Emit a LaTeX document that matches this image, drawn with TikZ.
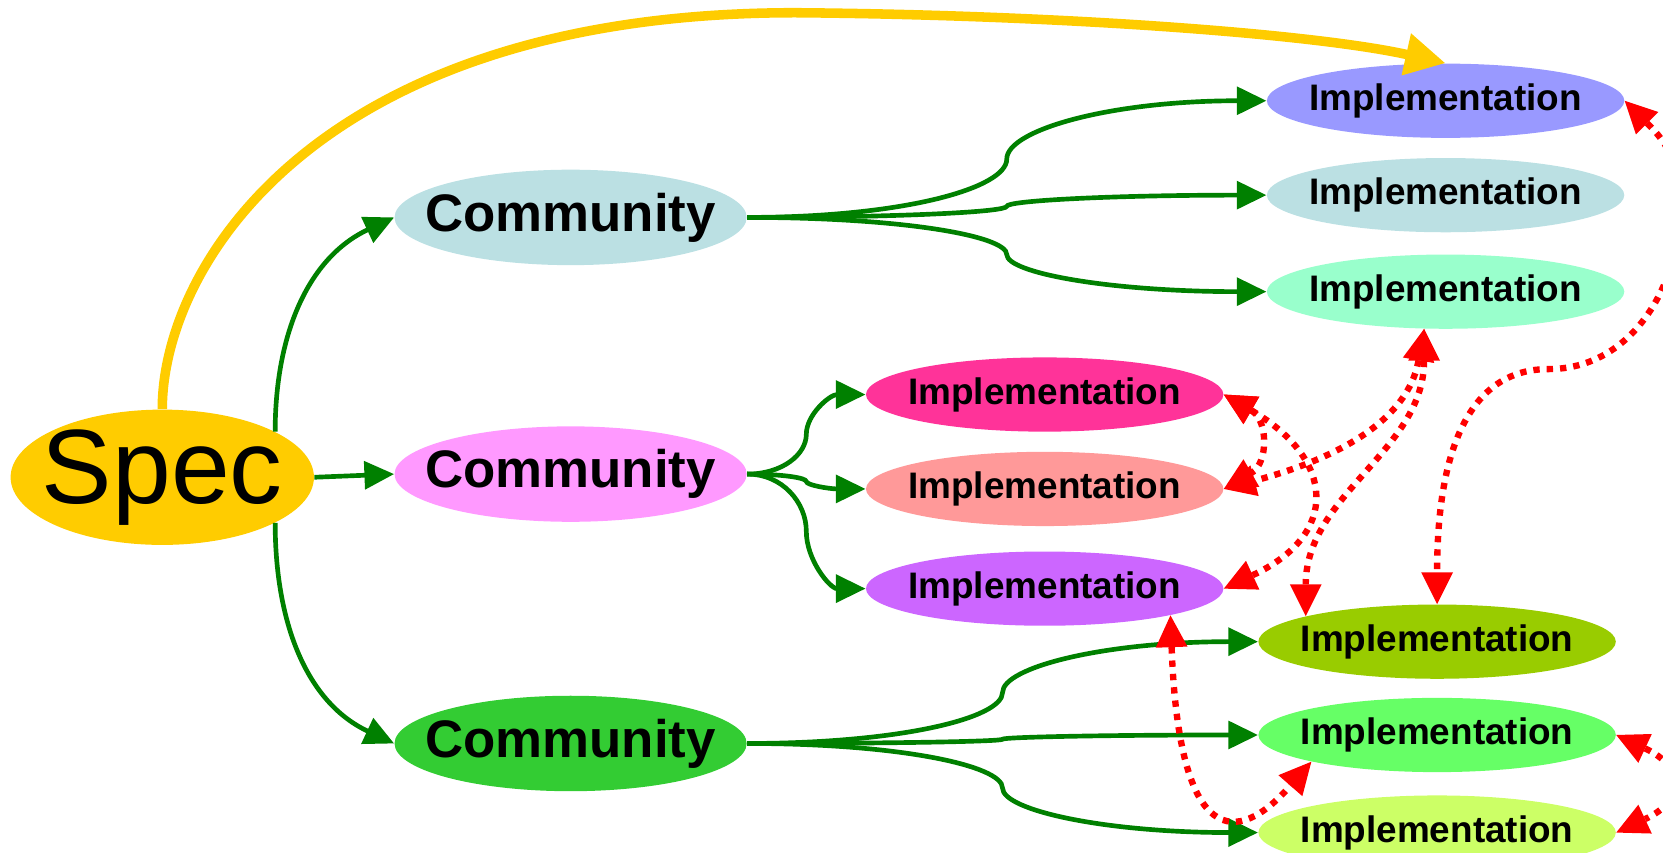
\documentclass[tikz,border=0pt]{standalone}
\usepackage{fontspec}
\setmainfont{Liberation Sans}
\usepackage{tikz}
\usetikzlibrary{arrows.meta,calc,shapes.geometric}
\usepackage{xcolor}
\definecolor{specgold}{HTML}{FFCC00}
\definecolor{commA}{HTML}{BBE0E3}
\definecolor{commB}{HTML}{FF99FF}
\definecolor{commC}{HTML}{33CC33}
\definecolor{implA}{HTML}{9999FF}
\definecolor{implB}{HTML}{BBE0E3}
\definecolor{implC}{HTML}{99FFCC}
\definecolor{implD}{HTML}{FF3399}
\definecolor{implE}{HTML}{FF9999}
\definecolor{implF}{HTML}{CC66FF}
\definecolor{implG}{HTML}{99CC00}
\definecolor{implH}{HTML}{66FF66}
\definecolor{implI}{HTML}{CCFF66}
\definecolor{linkgreen}{HTML}{008000}
\definecolor{peerred}{HTML}{FF0000}

\begin{document}
\begin{tikzpicture}[x=0.5pt,y=0.5pt,
  blob/.style={ellipse,inner sep=0pt},
  spec/.style={blob,fill=specgold,minimum width=143pt,minimum height=50pt,font=\fontsize{49.8}{56}\selectfont},
  comm/.style={blob,minimum width=166pt,minimum height=45pt,font=\bfseries\fontsize{24.9}{28}\selectfont},
  impl/.style={blob,minimum width=168.5pt,minimum height=35pt,font=\bfseries\fontsize{17.4}{20}\selectfont},
  link/.style={draw=linkgreen,line width=2.2pt,-{Triangle[length=14pt,width=13pt]}},
  lead/.style={draw=specgold,line width=4.5pt,-{Triangle[length=19pt,width=19pt]}},
  peer/.style={draw=peerred,line width=3pt,dash pattern=on 3pt off 3.3pt,
    {Triangle[length=15pt,width=15pt,line width=0pt]}-{Triangle[length=15pt,width=15pt,line width=0pt]}}]
  \useasboundingbox (0,0) rectangle (1568,804);
  \clip (0,0) rectangle (1568,804);
  % nodes
  \node[spec] (S) at (153,354) {\makebox[0pt]{Spec}};
  \node[comm,fill=commA] (C1) at (538,599) {\makebox[0pt]{Community}};
  \node[comm,fill=commB] (C2) at (538,357) {\makebox[0pt]{Community}};
  \node[comm,fill=commC] (C3) at (538,103) {\makebox[0pt]{Community}};
  \node[impl,fill=implA] (I1) at (1363,709) {\makebox[0pt]{Implementation}};
  \node[impl,fill=implB] (I2) at (1363,620) {\makebox[0pt]{Implementation}};
  \node[impl,fill=implC] (I3) at (1363,529) {\makebox[0pt]{Implementation}};
  \node[impl,fill=implD] (I4) at (985,432) {\makebox[0pt]{Implementation}};
  \node[impl,fill=implE] (I5) at (985,343) {\makebox[0pt]{Implementation}};
  \node[impl,fill=implF] (I6) at (985,249) {\makebox[0pt]{Implementation}};
  \node[impl,fill=implG] (I7) at (1355,199) {\makebox[0pt]{Implementation}};
  \node[impl,fill=implH] (I8) at (1355,111) {\makebox[0pt]{Implementation}};
  \node[impl,fill=implI] (I9) at (1355,19) {\makebox[0pt]{Implementation}};
  % spec to communities
  \draw[link] (S.22) to[out=90,in=205] (C1.west);
  \draw[link] (S.east) -- (C2.west);
  \draw[link] (S.-22) to[out=-90,in=155] (C3.west);
  % communities to implementations
  \foreach \src/\dst in {C1/I1,C1/I2,C1/I3,C2/I4,C2/I5,C2/I6,C3/I7,C3/I8,C3/I9}{
    \coordinate (M) at ($(\src.east)!0.5!(\dst.west)$);
    \draw[link] (\src.east) .. controls ($(\src.east)!0.6!(\src.east-|M)$) and ($(M)!0.5!(M|-\src.east)$) .. (M)
      .. controls ($(M)!0.5!(M|-\dst.west)$) and ($(\dst.west)!0.6!(\dst.west-|M)$) .. (\dst.west);
  }
  % spec straight to one implementation
  \coordinate (G) at (750,792);
  \draw[lead] (S.north) .. controls (153,554) and (300,792) .. (G)
    .. controls (1000,790) and (1240,772) .. (I1.north);
  % links between implementations
  \coordinate (R1) at (1585,614);
  \coordinate (R2) at (1460,456);
  \draw[peer] (I4.east) to[out=-30,in=30,looseness=1.4] (I5.east);
  \draw[peer] (I4.east) to[out=-30,in=25,looseness=1.7] (I6.east);
  \draw[peer] (I3.240) to[out=-100,in=15] (I5.east);
  \draw[peer] (I3.240) to[out=-90,in=90] (I7.169);
  \draw[peer] (I1.east) to[out=-45,in=90] (R1) to[out=-90,in=0] (R2) to[out=180,in=90] (I7.north);
  \draw[peer] (I6.-12) .. controls +(8,-220) and +(-70,-80) .. (I8.192);
  \draw[peer] (I8.east) to[out=-25,in=25,looseness=2] (I9.east);
\end{tikzpicture}
\end{document}
